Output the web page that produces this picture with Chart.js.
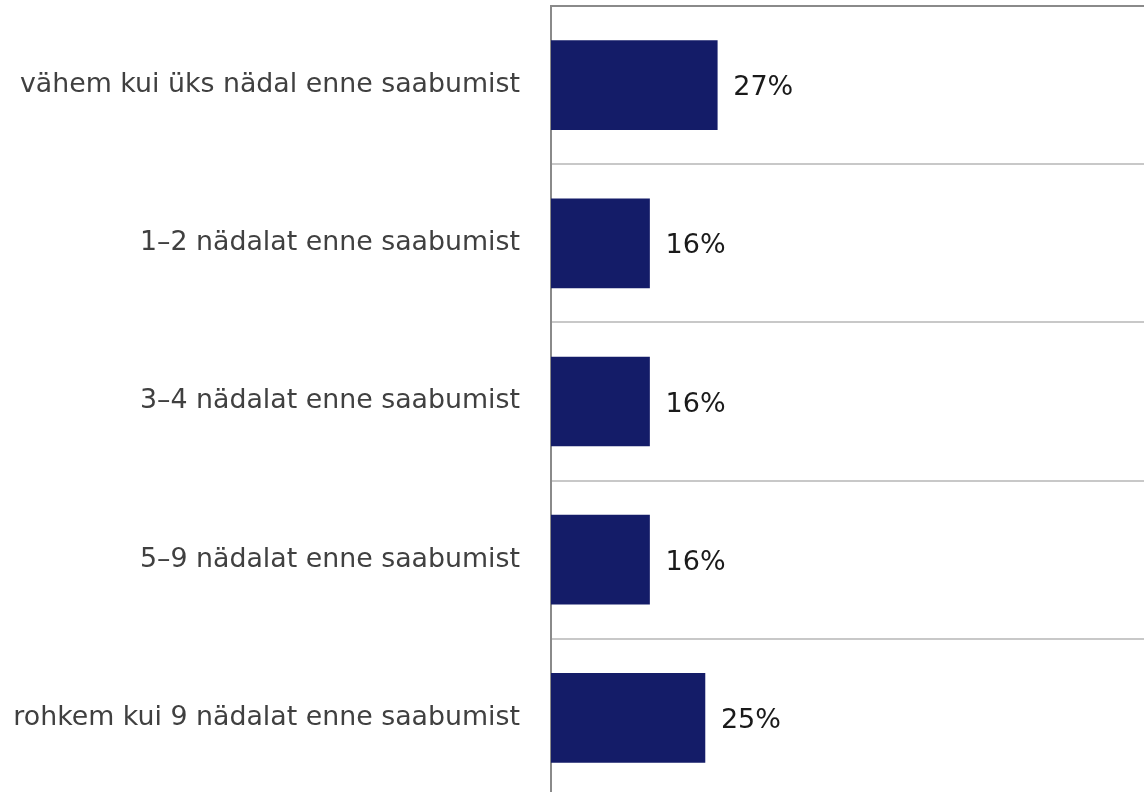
<!DOCTYPE html>
<html><head><meta charset="utf-8">
<script src="https://cdn.jsdelivr.net/npm/chart.js@4/dist/chart.umd.min.js"></script>
<style>html,body{margin:0;padding:0;overflow:hidden;background:#fff;width:1144px;height:792px}canvas{display:block}</style>
</head><body><canvas id="c" width="1144" height="797"></canvas>
<script>
const categories = ["vähem kui üks nädal enne saabumist","1–2 nädalat enne saabumist","3–4 nädalat enne saabumist","5–9 nädalat enne saabumist","rohkem kui 9 nädalat enne saabumist"];
const values = [27,16,16,16,25];
const valueLabels = ["27%","16%","16%","16%","25%"];

const labelPlugin = {
  id:'valLabels',
  afterDatasetsDraw(chart){
    const ctx = chart.ctx;
    const meta = chart.getDatasetMeta(0);
    ctx.save();
    ctx.font = '27px "DejaVu Sans"';
    ctx.fillStyle = '#1a1a1a';
    ctx.textAlign = 'left';
    ctx.textBaseline = 'middle';
    meta.data.forEach((el,i)=>{
      ctx.fillText(valueLabels[i], el.x + 16, el.y + 3);
    });
    ctx.restore();
  }
};

new Chart(document.getElementById('c'),{
  type:'bar',
  data:{labels:categories,datasets:[{data:values,backgroundColor:'#141c68',barThickness:89,borderWidth:0}]},
  options:{
    indexAxis:'y',responsive:false,animation:false,devicePixelRatio:1,
    layout:{padding:{top:6,right:0,bottom:0,left:0}},
    plugins:{legend:{display:false},tooltip:{enabled:false}},
    scales:{
      x:{display:false,min:0,max:96.3,grid:{display:false}},
      y:{
        afterFit(s){s.width=551;s.paddingTop=0;s.paddingBottom=0;},
        grid:{offset:true,drawTicks:false,lineWidth:2,color:(c)=>c.index===0?'#8a8a8a':'#c8c8c8'},
        border:{display:true,color:'#8a8a8a',width:2},
        ticks:{padding:31,color:'#404040',font:{family:'"DejaVu Sans"',size:26.8}}
      }
    }
  },
  plugins:[labelPlugin]
});
</script></body></html>
